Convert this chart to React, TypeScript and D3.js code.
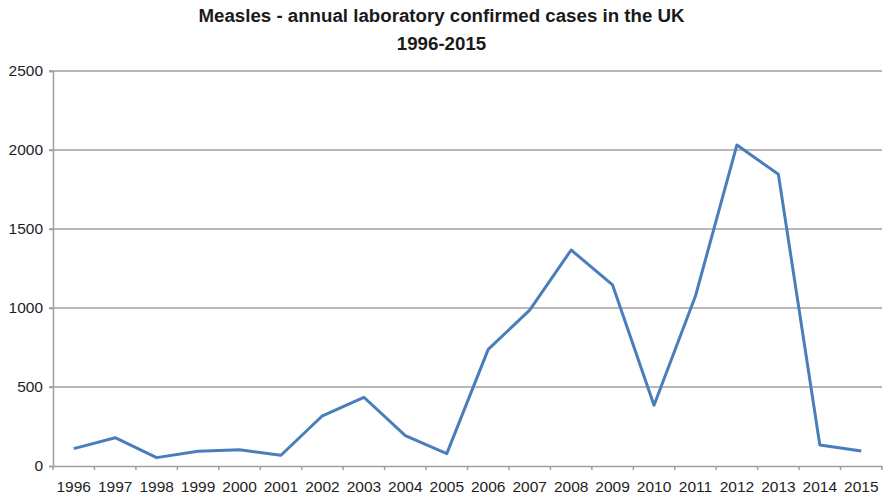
import React, { useEffect, useRef } from "react";
import * as d3 from "d3";

// Laboratory confirmed measles cases per year, UK
const years: string[] = [
  "1996", "1997", "1998", "1999", "2000", "2001", "2002", "2003", "2004", "2005",
  "2006", "2007", "2008", "2009", "2010", "2011", "2012", "2013", "2014", "2015",
];
const cases: number[] = [
  110, 179, 53, 93, 103, 68, 318, 435, 192, 78,
  738, 987, 1367, 1146, 385, 1076, 2032, 1846, 133, 95,
];
const yTicks: number[] = [0, 500, 1000, 1500, 2000, 2500];
const titleLines: string[] = [
  "Measles - annual laboratory confirmed cases in the UK",
  "1996-2015",
];

const W = 883;
const H = 498;
const FONT = "'Liberation Sans', Arial, sans-serif";

export default function App() {
  const ref = useRef<SVGSVGElement>(null);

  useEffect(() => {
    const svg = d3.select(ref.current);
    svg.selectAll("*").remove();

    const left = 53;
    const right = 882;
    const top = 71;
    const bottom = 466;

    const x = d3.scaleBand<string>().domain(years).range([left, right]);
    const y = d3.scaleLinear().domain([0, 2500]).range([bottom, top]);

    svg.append("rect").attr("width", W).attr("height", H).attr("fill", "#ffffff");

    // horizontal gridlines
    svg
      .append("g")
      .selectAll("line")
      .data(yTicks.filter((t) => t > 0))
      .join("line")
      .attr("x1", left - 4)
      .attr("x2", right)
      .attr("y1", (d) => y(d))
      .attr("y2", (d) => y(d))
      .attr("stroke", "#9f9f9f")
      .attr("stroke-width", 1.5);

    // y axis
    const yAxis = svg
      .append("g")
      .attr("transform", `translate(${left},0)`)
      .call(
        d3
          .axisLeft(y)
          .tickValues(yTicks)
          .tickFormat(d3.format("d"))
          .tickSize(4)
          .tickPadding(6)
      );
    yAxis.select(".domain").attr("stroke", "#9f9f9f").attr("stroke-width", 1.5);
    yAxis.selectAll(".tick line").attr("stroke", "#9f9f9f").attr("stroke-width", 1.5);
    yAxis
      .selectAll(".tick text")
      .attr("font-family", FONT)
      .attr("font-size", 15.5)
      .attr("fill", "#1e1e1e");

    // x axis with ticks between categories
    const xAxis = svg
      .append("g")
      .attr("transform", `translate(0,${bottom})`)
      .call(d3.axisBottom(x).tickSize(0).tickPadding(15));
    xAxis.select(".domain").attr("stroke", "#9f9f9f").attr("stroke-width", 1.5);
    xAxis
      .selectAll(".tick text")
      .attr("font-family", FONT)
      .attr("font-size", 15.5)
      .attr("fill", "#1e1e1e");
    const bounds = years.map((yr) => x(yr) as number).concat([right]);
    xAxis
      .append("g")
      .selectAll("line")
      .data(bounds)
      .join("line")
      .attr("x1", (d) => d)
      .attr("x2", (d) => d)
      .attr("y1", 0)
      .attr("y2", 4)
      .attr("stroke", "#9f9f9f")
      .attr("stroke-width", 1.5);

    // series line
    const line = d3
      .line<number>()
      .x((_, i) => (x(years[i]) as number) + x.bandwidth() / 2)
      .y((d) => y(d));
    svg
      .append("path")
      .datum(cases)
      .attr("d", line)
      .attr("fill", "none")
      .attr("stroke", "#4a7ebb")
      .attr("stroke-width", 3)
      .attr("stroke-linejoin", "round");

    // title
    svg
      .append("g")
      .selectAll("text")
      .data(titleLines)
      .join("text")
      .attr("x", W / 2)
      .attr("y", (_, i) => 22 + i * 28)
      .attr("text-anchor", "middle")
      .attr("font-family", FONT)
      .attr("font-weight", "bold")
      .attr("font-size", 18.7)
      .attr("fill", "#1a1a1a")
      .text((d) => d);
  }, []);

  return (
    <svg
      ref={ref}
      width={W}
      height={H}
      style={{ position: "absolute", left: 0, top: 0, display: "block" }}
    />
  );
}
